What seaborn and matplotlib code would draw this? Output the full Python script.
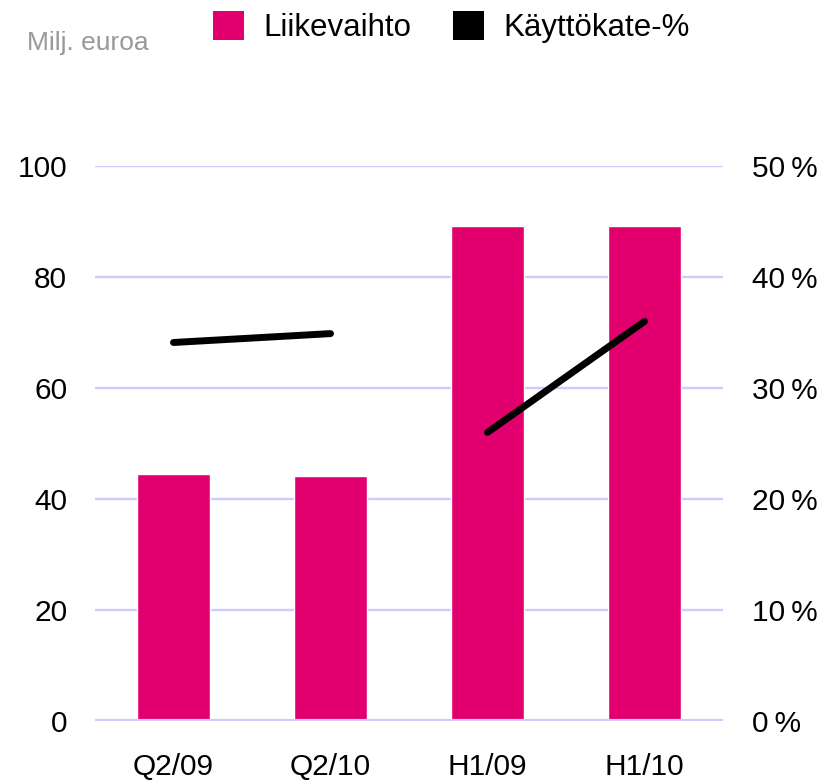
import seaborn as sns
import pandas as pd
import matplotlib.pyplot as plt
from matplotlib.patches import Patch

# chart values
categories = ['Q2/09', 'Q2/10', 'H1/09', 'H1/10']
liikevaihto = [44.5, 44.1, 89.2, 89.2]          # milj. euroa
kayttokate = [0.341, 0.349, 0.260, 0.360]       # käyttökate-%
segment = ['Q2', 'Q2', 'H1', 'H1']              # line is drawn in two pieces
left_ticks = [0, 20, 40, 60, 80, 100]
right_ticks = [0, 0.1, 0.2, 0.3, 0.4, 0.5]

pink = '#e2006e'
grid_col = '#ccccff'

sns.set_style('white')
plt.rcParams['font.family'] = ['Liberation Sans', 'DejaVu Sans']
plt.rcParams['text.color'] = 'black'
plt.rcParams['xtick.color'] = 'black'
plt.rcParams['ytick.color'] = 'black'

df = pd.DataFrame({'kausi': categories, 'liikevaihto': liikevaihto,
                   'kate': kayttokate, 'segment': segment,
                   'pos': range(len(categories))})

fig = plt.figure(figsize=(8.32, 7.83), dpi=100)
ax = fig.add_axes([95 / 832, 1 - 721 / 783, (723 - 95) / 832, (721 - 166) / 783])

#bars
sns.barplot(data=df, x='kausi', y='liikevaihto', color=pink, width=0.46,
            saturation=1, ax=ax, zorder=2)
ax.set_axisbelow(True)
ax.set_ylim(0, 100)
ax.set_xlim(-0.5, len(categories) - 0.5)
ax.set_yticks(left_ticks)
ax.grid(axis='y', color=grid_col, lw=1.7, zorder=0)
ax.axhline(0, color=grid_col, lw=3, zorder=3)
ax.tick_params(axis='both', length=0, labelsize=21.5, labelcolor='black')
ax.tick_params(axis='y', pad=20)
ax.tick_params(axis='x', pad=23)
ax.set_xlabel('')
ax.set_ylabel('')
for s in ax.spines.values():
    s.set_visible(False)

#line on the percent axis
ax2 = ax.twinx()
sns.lineplot(data=df, x='pos', y='kate', units='segment', estimator=None,
             color='black', lw=5, solid_capstyle='round', ax=ax2)
ax2.set_ylim(0, 0.5)
ax2.set_xlim(-0.5, len(categories) - 0.5)
ax2.set_yticks(right_ticks)
ax2.set_yticklabels([f'{round(v * 100)}\u2009%' for v in right_ticks])
ax2.tick_params(axis='y', length=0, labelsize=21.5, pad=21, labelcolor='black')
ax2.set_xlabel('')
ax2.set_ylabel('')
for s in ax2.spines.values():
    s.set_visible(False)

#legend and unit label
handles = [Patch(facecolor=pink, edgecolor='none', label='Liikevaihto'),
           Patch(facecolor='black', edgecolor='none', label='Käyttökate-%')]
fig.legend(handles=handles, loc='center left', bbox_to_anchor=(213 / 832, 1 - 27 / 783),
           ncol=2, frameon=False, fontsize=22.5, borderpad=0, borderaxespad=0,
           handlelength=1.0, handleheight=1.05, handletextpad=0.6, columnspacing=1.35)
fig.text(27 / 832, 1 - 50 / 783, 'Milj. euroa', color='#999999', fontsize=19, va='baseline')

fig.savefig('out.png', dpi=100)
